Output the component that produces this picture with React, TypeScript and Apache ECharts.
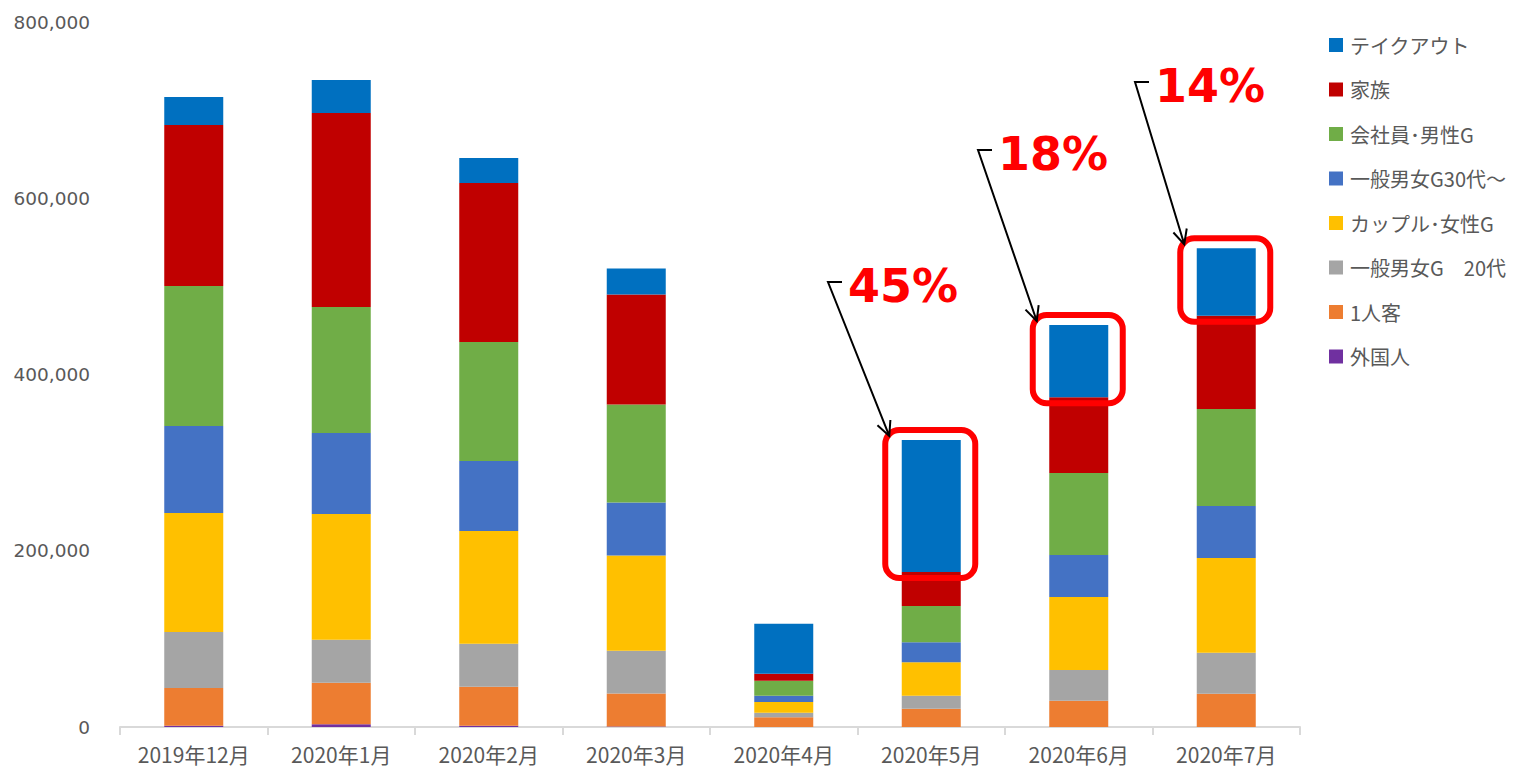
import React, { useEffect, useRef } from "react";
import * as echarts from "echarts";

const categories = ["2019年12月", "2020年1月", "2020年2月", "2020年3月", "2020年4月", "2020年5月", "2020年6月", "2020年7月"];
const gaikokujin = [1500, 3000, 1500, 500, 0, 0, 0, 0];
const hitori = [42700, 47300, 44200, 37400, 11000, 20800, 29800, 37800];
const g20 = [63500, 48800, 48800, 48500, 5300, 14700, 34900, 46500];
const couple = [135000, 142600, 127900, 108100, 12100, 37900, 82800, 107500];
const g30 = [98800, 91900, 79400, 60200, 7100, 22700, 47700, 59000];
const kaisha = [158800, 143000, 135100, 111200, 17100, 41200, 93000, 110100];
const kazoku = [182700, 220100, 180400, 124800, 7900, 38600, 85900, 105800];
const takeout = [31800, 37500, 28400, 29500, 56700, 149800, 82100, 76500];

const yTicks = [0, 200000, 400000, 600000, 800000];

const highlightIdx = [5, 6, 7];
const highlightLabels = ["45%", "18%", "14%"];
// label anchor (hook start) positions in pixels
const hookPos = [
  [828, 282],
  [978, 150],
  [1135, 82],
];

const seriesDefs = [
  { name: "外国人", data: gaikokujin, color: "#7030A0" },
  { name: "1人客", data: hitori, color: "#ED7D31" },
  { name: "一般男女G　20代", data: g20, color: "#A5A5A5" },
  { name: "カップル･女性G", data: couple, color: "#FFC000" },
  { name: "一般男女G30代～", data: g30, color: "#4472C4" },
  { name: "会社員･男性G", data: kaisha, color: "#70AD47" },
  { name: "家族", data: kazoku, color: "#C00000" },
  { name: "テイクアウト", data: takeout, color: "#0070C0" },
];

const FONT = '"Noto Sans CJK JP", "Noto Sans", sans-serif';
const YFONT = '"DejaVu Sans", "Noto Sans", sans-serif';

export default function App() {
  const ref = useRef<HTMLDivElement>(null);
  useEffect(() => {
    if (!ref.current) return;
    const chart = echarts.init(ref.current, undefined, { renderer: "svg" });
    const option: any = {
      animation: false,
      backgroundColor: "#fff",
      grid: { left: 120, right: 232, top: 22, bottom: 43, containLabel: false },
      legend: {
        orient: "vertical",
        left: 1324,
        top: 30,
        itemWidth: 14,
        itemHeight: 14,
        itemGap: 24.5,
        icon: "rect",
        data: seriesDefs.map((s) => s.name).reverse(),
        textStyle: { fontFamily: FONT, fontSize: 20, color: "#595959", lineHeight: 20, padding: [0, 0, 0, 2] },
      },
      xAxis: {
        type: "category",
        data: categories,
        axisLine: { lineStyle: { color: "#d9d9d9", width: 2 } },
        axisTick: { show: true, interval: 0, length: 8, lineStyle: { color: "#d9d9d9", width: 2 } },
        axisLabel: { interval: 0, fontFamily: FONT, fontSize: 21, color: "#595959", margin: 16 },
      },
      yAxis: {
        type: "value",
        min: yTicks[0],
        max: yTicks[yTicks.length - 1],
        interval: 200000,
        axisLine: { show: false },
        axisTick: { show: false },
        splitLine: { show: false },
        axisLabel: {
          fontFamily: YFONT,
          fontSize: 18.5,
          color: "#595959",
          margin: 30,
          formatter: (v: number) => v.toLocaleString("en-US"),
        },
      },
      series: seriesDefs.map((s) => ({
        name: s.name,
        type: "bar",
        stack: "total",
        data: s.data,
        barWidth: 59,
        itemStyle: { color: s.color },
      })),
    };
    chart.setOption(option);

    const graphics: any[] = [];
    highlightIdx.forEach((ci, k) => {
      let total = 0;
      seriesDefs.forEach((s) => (total += s.data[ci]));
      const top = chart.convertToPixel({ xAxisIndex: 0, yAxisIndex: 0 }, [ci, total]) as number[];
      const bot = chart.convertToPixel({ xAxisIndex: 0, yAxisIndex: 0 }, [ci, total - takeout[ci]]) as number[];
      const cx = top[0];
      const bx = cx - 46;
      const by = top[1] - 10;
      const bw = 90;
      const bh = bot[1] + 6 - by;
      graphics.push({
        type: "rect",
        shape: { x: bx, y: by, width: bw, height: bh, r: 14 },
        style: { fill: "none", stroke: "#FF0000", lineWidth: 6 },
        z: 100,
      });
      const [hx, hy] = hookPos[k];
      const tipX = bx + 4;
      const tipY = by + 6;
      graphics.push({
        type: "polyline",
        shape: { points: [[hx + 14, hy], [hx, hy], [tipX, tipY]] },
        style: { fill: "none", stroke: "#000", lineWidth: 2 },
        z: 100,
      });
      const dx = tipX - hx;
      const dy = tipY - hy;
      const len = Math.sqrt(dx * dx + dy * dy);
      const ux = dx / len;
      const uy = dy / len;
      const ah = 16;
      const ang = 0.45;
      const p1 = [tipX - ah * (ux * Math.cos(ang) - uy * Math.sin(ang)), tipY - ah * (uy * Math.cos(ang) + ux * Math.sin(ang))];
      const p2 = [tipX - ah * (ux * Math.cos(-ang) - uy * Math.sin(-ang)), tipY - ah * (uy * Math.cos(-ang) + ux * Math.sin(-ang))];
      graphics.push({
        type: "polyline",
        shape: { points: [p1, [tipX, tipY], p2] },
        style: { fill: "none", stroke: "#000", lineWidth: 2 },
        z: 100,
      });
      graphics.push({
        type: "text",
        x: hx + 20,
        y: hy + 4,
        style: {
          text: highlightLabels[k],
          fill: "#FF0000",
          font: 'bold 46px "DejaVu Sans", "Noto Sans", sans-serif',
          textAlign: "left",
          textVerticalAlign: "middle",
        },
        z: 100,
      });
    });
    chart.setOption({ graphic: graphics });

    return () => chart.dispose();
  }, []);
  return <div ref={ref} style={{ width: 1532, height: 770, position: "absolute", left: 0, top: 0 }} />;
}
